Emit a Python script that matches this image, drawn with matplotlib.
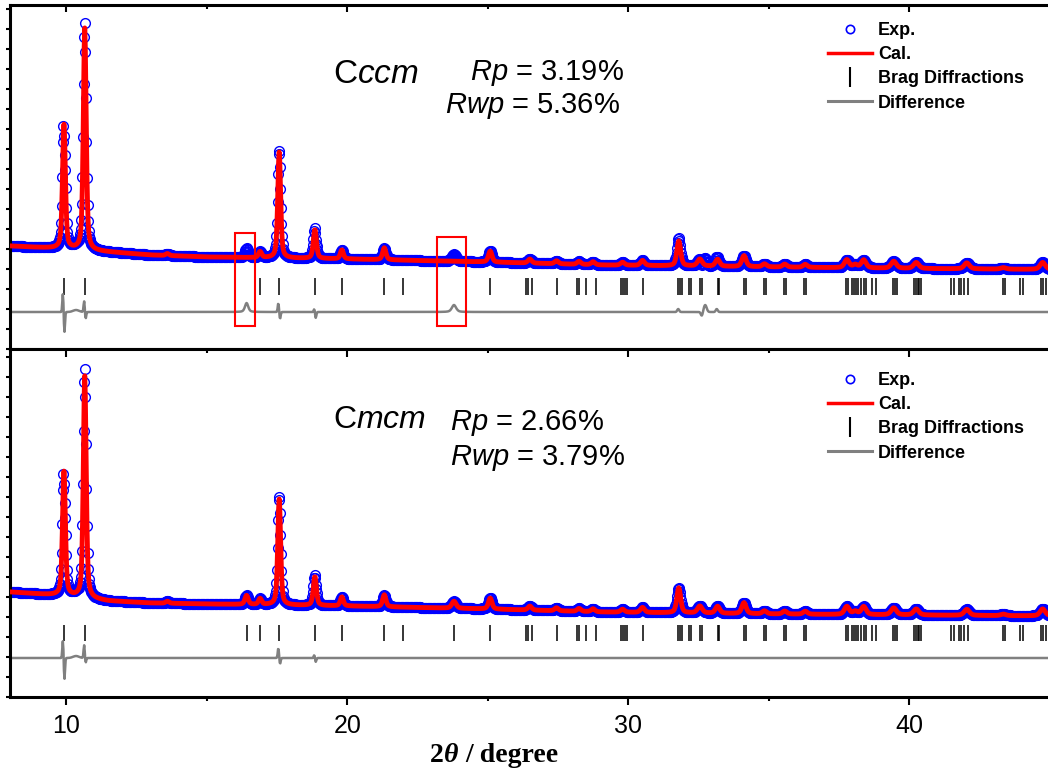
import numpy as np
import matplotlib
matplotlib.use('Agg')
import matplotlib.pyplot as plt
from matplotlib.lines import Line2D
from matplotlib.patches import Rectangle
from matplotlib.ticker import MultipleLocator
from matplotlib.transforms import blended_transform_factory

plt.rcParams['font.family'] = 'Liberation Sans'
plt.rcParams['mathtext.fontset'] = 'custom'
plt.rcParams['mathtext.rm'] = 'Liberation Sans'
plt.rcParams['mathtext.it'] = 'Liberation Sans:italic'

# --- data (intensity in plot units above the panel bottom) ---
two_theta = np.arange(8.0, 45.2, 0.02)

# background levels
bg_x = [8, 9, 10, 11.5, 13, 15, 20, 25, 29, 35, 40, 45.2]
bg_top = [103, 101.5, 100, 97, 94, 92, 90, 87, 84, 82, 80.5, 79.5]
bg_bot = [105, 103, 101, 96, 94, 93, 91, 88, 85, 83, 82, 81]

# fitted reflections: position, height, fwhm
peak_pos = [9.92, 10.66, 13.6, 16.90, 17.58, 18.85, 19.81, 21.32, 25.09, 26.50, 27.45,
            28.25, 28.75, 29.80, 30.51, 31.80, 32.55, 33.18, 34.12, 34.85, 35.57, 36.30,
            37.78, 38.08, 38.38, 39.45, 40.25, 42.05, 43.35, 44.75]
peak_h = [124, 222, 2, 6, 106, 29, 9, 12, 11, 4, 3,
          3, 3, 3, 5, 25, 7, 7, 11, 3, 3, 3,
          8, 3, 8, 7, 6, 6, 1.5, 7]
peak_w = [0.12, 0.12, 0.14, 0.13, 0.12, 0.13, 0.13, 0.14, 0.15, 0.16, 0.16,
          0.16, 0.16, 0.17, 0.17, 0.16, 0.2, 0.18, 0.18, 0.18, 0.18, 0.18,
          0.2, 0.2, 0.2, 0.22, 0.22, 0.22, 0.22, 0.22]

# reflections missing from the Cccm model (red boxes)
extra_pos = [16.42, 23.80]
extra_h = [9, 7]
extra_w = [0.14, 0.18]

# misfit wiggles in the difference curves
wig_top_pos = [9.885, 9.935, 10.64, 10.69, 10.35, 17.55, 17.61, 18.83, 18.88, 31.78, 32.62, 32.74, 33.15]
wig_top_amp = [19, -21, 11, -7, 2, 9, -7, 3, -6, 3, -4, 7, 3]
wig_top_w = [0.05, 0.05, 0.05, 0.05, 0.25, 0.05, 0.05, 0.05, 0.05, 0.08, 0.08, 0.12, 0.08]
wig_bot_pos = [9.885, 9.935, 10.64, 10.69, 10.35, 17.55, 17.61, 18.83, 18.88]
wig_bot_amp = [18, -22, 13, -5, 2, 10, -6, 3, -4]
wig_bot_w = [0.05, 0.05, 0.05, 0.05, 0.25, 0.05, 0.05, 0.05, 0.05]

bragg_top = [9.93, 10.68, 16.90, 17.58, 18.85, 19.81, 21.32, 21.99, 25.09, 26.36, 26.44,
             26.59, 27.46, 28.17, 28.26, 28.49, 28.85, 29.74, 29.80, 29.87, 29.94, 30.51,
             31.78, 31.85, 31.91, 32.15, 32.23, 32.55, 32.63, 33.18, 33.24, 34.13, 34.19,
             34.84, 34.90, 35.55, 35.61, 36.27, 36.32, 37.75, 37.83, 37.96, 38.04, 38.12,
             38.18, 38.28, 38.40, 38.48, 38.69, 38.81, 39.41, 39.49, 39.58, 40.18, 40.24,
             40.30, 40.36, 40.42, 41.48, 41.60, 41.76, 41.86, 41.96, 42.08, 43.33, 43.42,
             43.95, 44.04, 44.69, 44.75, 44.87]
bragg_bot = sorted(bragg_top + [16.42, 23.80])

diff_offset_top = 37
diff_offset_bot = 39


def pseudo_voigt(x, pos, h, w, eta=0.5):
    t = (x - pos) / w
    return h * (eta / (1 + 4 * t**2) + (1 - eta) * np.exp(-4 * np.log(2) * t**2))


def peaks_sum(x, pos, h, w, eta=0.5):
    y = np.zeros_like(x)
    for p, a, s in zip(pos, h, w):
        y += pseudo_voigt(x, p, a, s, eta)
    return y


calc_top = np.interp(two_theta, bg_x, bg_top) + peaks_sum(two_theta, peak_pos, peak_h, peak_w)
obs_top = calc_top + peaks_sum(two_theta, extra_pos, extra_h, extra_w) \
    + peaks_sum(two_theta, wig_top_pos, wig_top_amp, wig_top_w, eta=0)
diff_top = obs_top - calc_top + diff_offset_top

calc_bot = np.interp(two_theta, bg_x, bg_bot) + peaks_sum(two_theta, peak_pos + extra_pos,
                                                          peak_h + extra_h, peak_w + extra_w)
obs_bot = calc_bot + peaks_sum(two_theta, wig_bot_pos, wig_bot_amp, wig_bot_w, eta=0)
diff_bot = obs_bot - calc_bot + diff_offset_bot

# --- figure ---
W, H = 1048, 771
fig = plt.figure(figsize=(W / 100, H / 100), dpi=100)
ax_w = 37.2 * 28.1 / W
ax1 = fig.add_axes([10 / W, (H - 349) / H, ax_w, 344 / H])
ax2 = fig.add_axes([10 / W, (H - 697) / H, ax_w, 348 / H])


def draw_panel(ax, obs, calc, diff, bragg, ylim, tick_lo, tick_hi, leg_top):
    ax.plot(two_theta, obs, 'o', mfc='none', mec='#0000ff', ms=7, mew=1.0, zorder=2)
    ax.plot(two_theta, calc, '-', color='#ff0000', lw=3.5, zorder=3)
    ax.vlines(bragg, tick_lo, tick_hi, color='k', lw=1.1, zorder=2)
    ax.plot(two_theta, diff, '-', color='#808080', lw=1.8, zorder=2)
    ax.set_xlim(8, 45.2)
    ax.set_ylim(*ylim)
    for s in ['left', 'top', 'bottom']:
        ax.spines[s].set_linewidth(2.2)
    ax.spines['right'].set_visible(False)
    ax.xaxis.set_major_locator(MultipleLocator(10))
    ax.xaxis.set_minor_locator(MultipleLocator(5))
    ax.yaxis.set_major_locator(MultipleLocator(20))
    ax.tick_params(axis='y', which='both', left=True, right=False, labelleft=False,
                   direction='out', length=3, width=1.5)
    legend_items = [
        Line2D([], [], ls='none', marker='o', mfc='none', mec='#0000ff', ms=6, mew=1.2),
        Line2D([], [], color='#ff0000', lw=2.5),
        Line2D([], [], ls='none', marker='|', color='k', ms=15, mew=1.5),
        Line2D([], [], color='#808080', lw=2.2),
    ]
    ax.legend(legend_items, ['Exp.', 'Cal.', 'Brag Diffractions', 'Difference'],
              loc='upper left', frameon=False, prop={'weight': 'bold', 'size': 13},
              handlelength=2.45, handletextpad=0.33, labelspacing=0.4,
              borderpad=0, borderaxespad=0,
              bbox_to_anchor=(828 / W, 1 - leg_top / H),
              bbox_transform=fig.transFigure)


draw_panel(ax1, obs_top, calc_top, diff_top, bragg_top, (0, 344), 54, 71, 22)
draw_panel(ax2, obs_bot, calc_bot, diff_bot, bragg_bot, (0, 348), 56, 72, 372)

ax1.tick_params(axis='x', which='both', top=True, bottom=False, labelbottom=False,
                direction='in', length=5, width=1.5)
ax1.tick_params(axis='x', which='minor', length=3)
ax2.tick_params(axis='x', which='both', top=True, bottom=True, labelbottom=False,
                direction='out', width=1.5)
ax2.tick_params(axis='x', which='major', length=6)
ax2.tick_params(axis='x', which='minor', length=3)
# top ticks of the lower panel point inward
for t in ax2.xaxis.get_major_ticks() + ax2.xaxis.get_minor_ticks():
    t.tick2line.set_marker(3)

# tick labels of the shared 2-theta axis
lab_tr = blended_transform_factory(ax2.transData, fig.transFigure)
for v in [10, 20, 30, 40]:
    fig.text(v, 1 - 733 / H, f'{v}', transform=lab_tr, fontsize=18, ha='center', va='baseline')

# boxes around the unmatched reflections
ax1.add_patch(Rectangle((16.01, 23), 0.72, 93, fill=False, ec='#ff0000', lw=1.5, zorder=4))
ax1.add_patch(Rectangle((23.20, 23), 1.03, 89, fill=False, ec='#ff0000', lw=1.5, zorder=4))

# space group and agreement factors
ax1.text(333 / W, 1 - 83 / H, r'C$ccm$', transform=fig.transFigure, fontsize=24, va='baseline')
ax1.text(470 / W, 1 - 80 / H, r'$Rp$ = 3.19%', transform=fig.transFigure, fontsize=21, va='baseline')
ax1.text(445 / W, 1 - 113 / H, r'$Rwp$ = 5.36%', transform=fig.transFigure, fontsize=21, va='baseline')
ax2.text(333 / W, 1 - 428 / H, r'C$mcm$', transform=fig.transFigure, fontsize=23, va='baseline')
ax2.text(450 / W, 1 - 430 / H, r'$Rp$ = 2.66%', transform=fig.transFigure, fontsize=21, va='baseline')
ax2.text(450 / W, 1 - 465 / H, r'$Rwp$ = 3.79%', transform=fig.transFigure, fontsize=21, va='baseline')

# x label: bold serif with bold-italic theta
lab = dict(fontfamily='Liberation Serif', fontweight='bold', fontsize=20, va='baseline')
fig.text(430 / W, 1 - 762 / H, '2', **lab)
fig.text(444 / W, 1 - 762 / H, 'θ', fontstyle='italic', **lab)
fig.text(465 / W, 1 - 762 / H, '/ degree', **lab)

fig.savefig('out.png', dpi=100)
